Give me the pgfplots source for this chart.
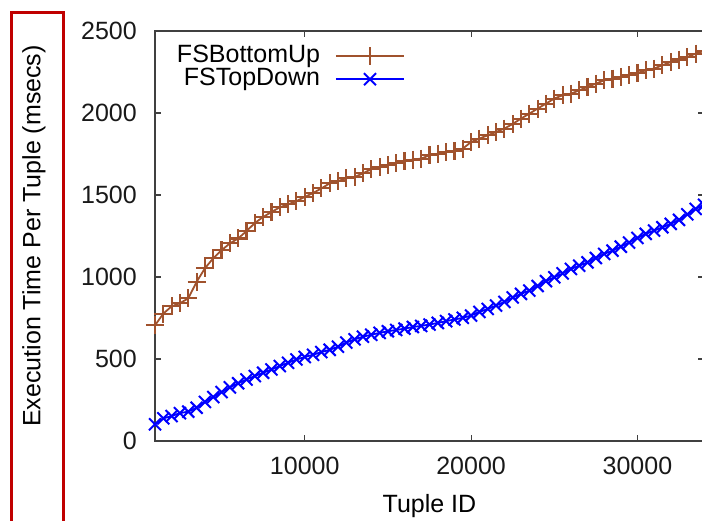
\documentclass[border=0pt]{standalone}
\usepackage{fontspec}
\setmainfont{Liberation Sans}
\usepackage{pgfplots}
\usepackage{pgfplotstable}
\pgfplotsset{compat=1.18}
\definecolor{bu}{RGB}{160,82,45}
\definecolor{td}{RGB}{0,0,255}
\definecolor{boxred}{RGB}{192,0,0}
\definecolor{axgray}{RGB}{64,64,64}
\pgfplotstableread{
x y
1000 705
1500 777
2000 821
2500 840
3000 870
3500 970
4000 1053
4500 1114
5000 1163
5500 1205
6000 1235
6500 1280
7000 1329
7500 1366
8000 1396
8500 1425
9000 1443
9500 1463
10000 1488
10500 1512
11000 1540
11500 1571
12000 1585
12500 1602
13000 1610
13500 1632
14000 1657
14500 1671
15000 1681
15500 1695
16000 1707
16500 1716
17000 1722
17500 1742
18000 1752
18500 1762
19000 1768
19500 1783
20000 1823
20500 1844
21000 1864
21500 1884
22000 1905
22500 1933
23000 1966
23500 1996
24000 2027
24500 2057
25000 2088
25500 2108
26000 2118
26500 2138
27000 2159
27500 2179
28000 2199
28500 2210
29000 2220
29500 2230
30000 2244
30500 2260
31000 2271
31500 2291
32000 2311
32500 2326
33000 2342
33500 2362
34000 2378
}\bottomup
\pgfplotstableread{
x y
1000 102
1500 138
2000 152
2500 170
3000 179
3500 203
4000 238
4500 268
5000 298
5500 327
6000 352
6500 375
7000 396
7500 416
8000 436
8500 457
9000 477
9500 497
10000 512
10500 526
11000 542
11500 556
12000 575
12500 600
13000 620
13500 636
14000 648
14500 659
15000 669
15500 677
16000 685
16500 695
17000 702
17500 710
18000 720
18500 731
19000 741
19500 751
20000 765
20500 787
21000 805
21500 826
22000 848
22500 875
23000 897
23500 917
24000 945
24500 975
25000 998
25500 1022
26000 1049
26500 1069
27000 1089
27500 1116
28000 1141
28500 1161
29000 1185
29500 1210
30000 1238
30500 1263
31000 1283
31500 1303
32000 1324
32500 1348
33000 1382
33500 1415
34000 1440
}\topdown
\begin{document}
\begin{tikzpicture}[x=1pt,y=1pt,font=\fontsize{25pt}{25pt}\selectfont]
\useasboundingbox (0,0) rectangle (702,520);
\clip (0,0) rectangle (702,520);
\begin{axis}[
  scale only axis, width=549pt, height=410pt,
  at={(155pt,79pt)}, anchor=south west,
  xmin=1000, xmax=34000, ymin=0, ymax=2500,
  xtick={10000,20000,30000}, ytick={0,500,1000,1500,2000,2500},
  scaled x ticks=false, scaled y ticks=false,
  /pgf/number format/1000 sep={},
  /pgf/number format/assume math mode=true,
  tick align=inside, major tick length=6pt,
  axis line style={draw=axgray, line width=1.3pt},
  every tick/.style={draw=axgray, line width=1.1pt},
  tick label style={font=\fontsize{25pt}{25pt}\selectfont, text=black!90},
  yticklabel style={xshift=-18pt, inner sep=0pt},
  xticklabel style={yshift=-16pt, inner sep=0pt},
  xlabel={Tuple ID},
  xlabel style={at={(axis description cs:0.5,-0.1756)}, anchor=base, inner sep=0pt, font=\fontsize{25pt}{25pt}\selectfont},
  ylabel={Execution Time Per Tuple (msecs)},
  ylabel style={at={(axis description cs:-0.2204,0.5)}, anchor=center, inner sep=0pt, font=\fontsize{25pt}{25pt}\selectfont},
  legend plot pos=right,
  legend cell align=right,
  legend style={at={(0.461,0.972)}, anchor=north east, draw=none, fill=none,
    font=\fontsize{25pt}{23pt}\selectfont,
    /tikz/column sep=15pt, /tikz/row sep=0pt,
    nodes={inner sep=0pt, text height=18pt, text depth=5pt}},
  legend image code/.code={
    \draw[mark repeat=2,mark phase=2,#1] plot coordinates {(0pt,0pt) (34pt,0pt) (68pt,0pt)};
  },
]
\addplot[color=bu, line width=1.8pt, mark=+, mark size=9pt, mark options={solid, line width=2.1pt}] table[x=x,y=y] {\bottomup};
\addlegendentry{FSBottomUp}
\addplot[color=td, line width=1.8pt, mark=x, mark size=8.5pt, mark options={solid, line width=2pt}] table[x=x,y=y] {\topdown};
\addlegendentry{FSTopDown}
\end{axis}
\draw[boxred, line width=3pt] (11.5,507.5) rectangle (63.5,-20);
\end{tikzpicture}
\end{document}
